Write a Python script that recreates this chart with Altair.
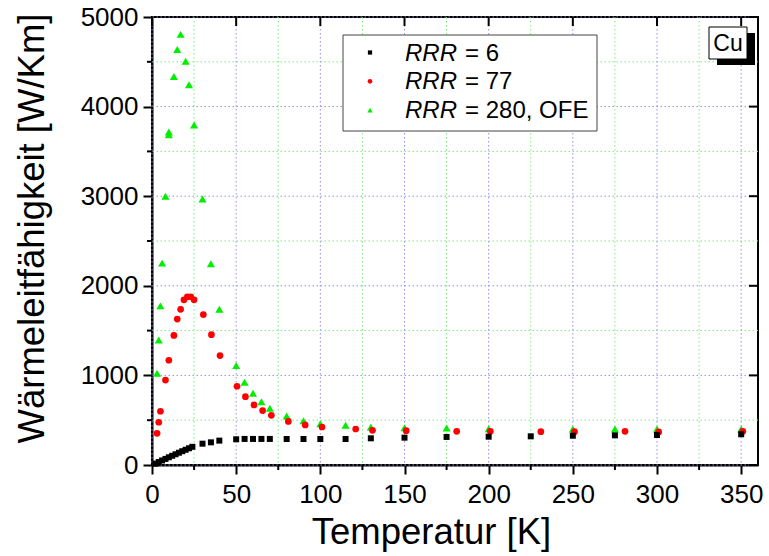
import altair as alt
import pandas as pd

# ---------------- data ----------------
t_rrr6 = [2, 4, 6, 8, 10, 12, 14, 16, 18, 20, 22, 24, 30, 35, 40, 50, 55, 60, 65, 70,
          80, 90, 100, 115, 130, 150, 175, 200, 225, 250, 275, 300, 350]
k_rrr6 = [15, 33, 51, 68, 86, 103, 120, 137, 154, 170, 187, 203, 238, 253, 272, 287, 291, 291, 291, 291,
          290, 290, 290, 290, 298, 305, 313, 316, 320, 327, 331, 335, 343]

t_rrr77 = [3, 4, 5, 8, 10, 13, 15, 17, 19, 21, 23, 25, 30.5, 35.3, 40.4, 50.5, 55.5, 60.6, 65.7, 70.9,
           81, 91, 101, 121, 131, 151, 181, 201, 231, 251, 281, 301, 351]
k_rrr77 = [354, 477, 600, 948, 1169, 1446, 1629, 1737, 1843, 1878, 1878, 1843, 1679, 1455, 1221, 879, 763, 670, 607, 555,
           486, 447, 424, 402, 387, 383, 376, 376, 372, 372, 376, 369, 376]

t_rrr280 = [3, 4, 5, 6, 8, 10, 10, 13, 15, 17, 20, 22, 25, 30, 35, 40, 50, 55, 60, 65, 70,
            80, 90, 100, 115, 130, 150, 175, 200, 250, 275, 300, 350]
k_rrr280 = [1024, 1396, 1776, 2253, 3000, 3716, 3686, 4337, 4636, 4806, 4505, 4245, 3795, 2968, 2245, 1739, 1109, 924, 801, 707, 633,
            547, 495, 461, 443, 424, 417, 413, 405, 402, 402, 402, 402]

legend_labels = ["= 6", "= 77", "= 280, OFE"]
series_colors = ["#000000", "#ff0000", "#00ee00"]
series_shapes = ["square", "circle", "triangle-up"]

x_major = [0, 50, 100, 150, 200, 250, 300, 350]
x_minor = [25, 75, 125, 175, 225, 275, 325]
y_major = [0, 1000, 2000, 3000, 4000, 5000]
y_minor = [500, 1500, 2500, 3500, 4500]

FONT = "Arial, Liberation Sans, Helvetica, sans-serif"
W, H = 606, 448

xs = alt.Scale(domain=[0, 360], nice=False, zero=False)
ys = alt.Scale(domain=[0, 5000], nice=False)

xmaj = pd.DataFrame({"v": x_major})
xmin = pd.DataFrame({"v": x_minor})
ymaj = pd.DataFrame({"v": y_major})
ymin = pd.DataFrame({"v": y_minor})

# grid lines
GREEN_GRID = "#77ee77"
BLUE_GRID = "#8f8fee"
grid_minor_x = alt.Chart(xmin).mark_rule(color=GREEN_GRID, strokeWidth=1, strokeDash=[1.5, 2.5]).encode(
    x=alt.X("v:Q", scale=xs))
grid_major_x = alt.Chart(xmaj).mark_rule(color=BLUE_GRID, strokeWidth=1, strokeDash=[1.5, 2.5]).encode(
    x=alt.X("v:Q", scale=xs))
grid_minor_y = alt.Chart(ymin).mark_rule(color=GREEN_GRID, strokeWidth=1, strokeDash=[1.5, 2.5]).encode(
    y=alt.Y("v:Q", scale=ys))
grid_major_y = alt.Chart(ymaj).mark_rule(color=BLUE_GRID, strokeWidth=1, strokeDash=[1.5, 2.5]).encode(
    y=alt.Y("v:Q", scale=ys))

# extra ticks (minor outward, top/right inward)
tick_minor_x = alt.Chart(xmin).mark_rule(color="black", strokeWidth=2).encode(
    x=alt.X("v:Q", scale=xs), y=alt.value(H), y2=alt.value(H + 5))
tick_top = alt.Chart(xmaj).mark_rule(color="black", strokeWidth=2).encode(
    x=alt.X("v:Q", scale=xs), y=alt.value(0), y2=alt.value(9))
tick_minor_y = alt.Chart(ymin).mark_rule(color="black", strokeWidth=2).encode(
    y=alt.Y("v:Q", scale=ys), x=alt.value(-5), x2=alt.value(0))
tick_right = alt.Chart(ymaj).mark_rule(color="black", strokeWidth=2).encode(
    y=alt.Y("v:Q", scale=ys), x=alt.value(W - 9), x2=alt.value(W))


def series(t, k, color, shape, size):
    df = pd.DataFrame({"T": t, "k": k})
    return alt.Chart(df).mark_point(filled=True, opacity=1, color=color, shape=shape, size=size).encode(
        x=alt.X("T:Q", scale=xs,
                axis=alt.Axis(values=x_major, title="Temperatur [K]", grid=False, format="d",
                              tickSize=9, tickWidth=2, tickColor="black",
                              domainWidth=2, domainColor="black",
                              labelFontSize=26, labelFont=FONT, labelColor="black", labelPadding=7,
                              labelFlush=False, labelOverlap=False,
                              titleFontSize=36.5, titleFont=FONT, titleFontWeight="normal", titleColor="black",
                              titleX=279, titleY=78, titleBaseline="alphabetic")),
        y=alt.Y("k:Q", scale=ys,
                axis=alt.Axis(values=y_major, title="Wärmeleitfähigkeit [W/Km]", grid=False, format="d",
                              tickSize=9, tickWidth=2, tickColor="black",
                              domainWidth=2, domainColor="black",
                              labelFontSize=26, labelFont=FONT, labelColor="black", labelPadding=5,
                              labelFlush=False, labelOverlap=False,
                              titleFontSize=36.5, titleFont=FONT, titleFontWeight="normal", titleColor="black",
                              titleX=-101, titleY=211)),
    )


pts280 = series(t_rrr280, k_rrr280, series_colors[2], series_shapes[2], 65)
pts77 = series(t_rrr77, k_rrr77, series_colors[1], series_shapes[1], 45)
pts6 = series(t_rrr6, k_rrr6, series_colors[0], series_shapes[0], 36)

# legend (manual, for italic RRR)
one = pd.DataFrame({"a": [0]})
legend_layers = [
    alt.Chart(one).mark_rect(fill="white", stroke="#444444", strokeWidth=1).encode(
        x=alt.value(191), x2=alt.value(445), y=alt.value(18), y2=alt.value(114))
]
marker_sizes = [18, 22, 28]
for i, (lbl, col, shp) in enumerate(zip(legend_labels, series_colors, series_shapes)):
    ym = 35.5 + 28.8 * i
    yb = 43.5 + 28.5 * i
    legend_layers.append(
        alt.Chart(one).mark_point(filled=True, opacity=1, color=col, shape=shp, size=marker_sizes[i]).encode(
            x=alt.value(218), y=alt.value(ym)))
    legend_layers.append(
        alt.Chart(one).mark_text(align="left", baseline="alphabetic", font=FONT, fontSize=24,
                                 fontStyle="italic", color="black").encode(
            x=alt.value(253), y=alt.value(yb), text=alt.value("RRR")))
    legend_layers.append(
        alt.Chart(one).mark_text(align="left", baseline="alphabetic", font=FONT, fontSize=24,
                                 color="black").encode(
            x=alt.value(313), y=alt.value(yb), text=alt.value(lbl)))

# Cu box
cu_layers = [
    alt.Chart(one).mark_rect(fill="black").encode(
        x=alt.value(565), x2=alt.value(603), y=alt.value(16), y2=alt.value(48)),
    alt.Chart(one).mark_rect(fill="white", stroke="black", strokeWidth=1).encode(
        x=alt.value(557), x2=alt.value(595), y=alt.value(10), y2=alt.value(42)),
    alt.Chart(one).mark_text(align="center", baseline="middle", font=FONT, fontSize=23, color="black").encode(
        x=alt.value(576), y=alt.value(27), text=alt.value("Cu")),
]

chart = alt.layer(
    grid_minor_x, grid_minor_y, grid_major_x, grid_major_y,
    pts280, pts77, pts6,
    tick_minor_x, tick_top, tick_minor_y, tick_right,
    *legend_layers, *cu_layers,
).properties(
    width=W, height=H,
    autosize=alt.AutoSizeParams(type="none"),
    padding={"left": 152, "top": 17, "right": 11, "bottom": 91},
    background="white",
).configure_view(stroke="black", strokeWidth=2)

chart.save("out.html", embed_options={"renderer": "svg", "actions": False})
